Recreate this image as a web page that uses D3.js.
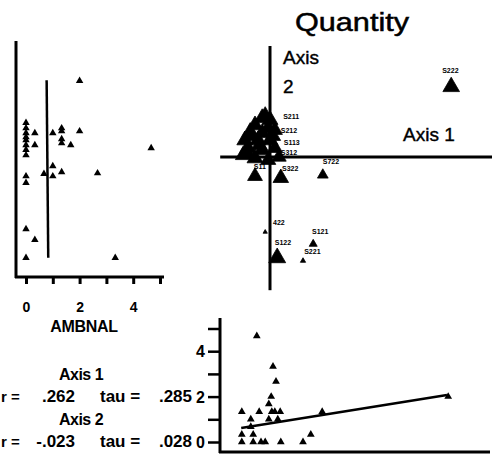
<!DOCTYPE html>
<html><head><meta charset="utf-8">
<script src="https://cdn.jsdelivr.net/npm/d3@7"></script>
<style>
html,body{margin:0;padding:0;background:#fff;}
svg{display:block;}
text{font-family:"Liberation Sans",Arial,sans-serif;fill:#000;}
</style></head>
<body>
<svg id="chart" width="493" height="457"></svg>
<script>
// ---------- DATA ----------
// Ordination (Axis 1 score, Axis 2 score, relative size)
const ordAxis1 = [3.02, 0.88, 0.12, 0.72, 0.55, -0.08,
  -0.13, 0.00, -0.25, -0.03, -0.33, -0.13, 0.08, -0.42, -0.20, 0.00, -0.37, -0.13, 0.08, -0.45, -0.25, -0.03, 0.15, -0.25, 0.18,
  -0.08, -0.30, 0.05, -0.18, -0.38];
const ordAxis2 = [1.17, -0.30, -1.68, -1.45, -1.73, -1.25,
  0.65, 0.62, 0.53, 0.48, 0.42, 0.40, 0.45, 0.28, 0.28, 0.28, 0.15, 0.12, 0.15, 0.03, -0.02, -0.05, 0.00, -0.32, -0.35,
  0.70, 0.35, 0.35, 0.20, 0.08];
const ordSize = [120, 50, 125, 28, 12, 8,
  110, 110, 110, 110, 110, 110, 100, 110, 110, 110, 110, 110, 100, 100, 110, 100, 90, 95, 105,
  90, 100, 100, 100, 90];
// Sample labels
const labelText = ["S222", "S722", "S122", "S121", "S221", "422", "S211", "S212", "S113", "S312", "S322", "S11"];
const labelAxis1 = [2.87, 0.88, 0.08, 0.70, 0.57, 0.05, 0.22, 0.18, 0.23, 0.18, 0.20, -0.27];
const labelAxis2 = [1.40, -0.12, -1.47, -1.28, -1.62, -1.13, 0.63, 0.40, 0.20, 0.03, -0.23, -0.20];

// Left panel: AMBNAL (x) vs Axis 2 (y)
const leftAmbnal = [2.0, 0, 0, 0, 0, 0, 0, 0, 0, 0.33, 0.33, 1.0, 1.33, 1.33, 1.33, 1.33, 2.0, 1.67, 4.67,
  1.0, 0.67, 1.0, 1.33, 0, 0, 2.67, 0, 0.33, 0, 3.33];
const leftAxis2 = [1.27, 0.57, 0.48, 0.40, 0.33, 0.28, 0.20, 0.12, 0.03, 0.40, 0.20, 0.40, 0.48, 0.43, 0.30, 0.23, 0.43, 0.20, 0.15,
  -0.15, -0.28, -0.32, -0.25, -0.32, -0.43, -0.27, -1.20, -1.38, -1.68, -1.68];
const leftLine = [[0.77, 1.28], [0.83, -1.68]];
const leftTicks = [0, 1, 2, 3, 4, 5];

// Bottom panel: Axis 1 (x) vs AMBNAL (y)
const botAxis1 = [-0.17, 0.10, 0.15, 0.07, 0.03, -0.42, -0.13, 0.08, 0.13, 0.22, -0.27, 0.03, 0.18, 0.92, 3.02,
  -0.27, -0.42, -0.23, 0.73, -0.42, -0.23, -0.10, -0.03, 0.23, 0.60];
const botAmbnal = [4.67, 3.33, 2.67, 2.0, 1.67, 1.33, 1.33, 1.33, 1.33, 1.33, 1.0, 1.0, 1.0, 1.33, 2.0,
  0.67, 0.33, 0.33, 0.33, 0, 0, 0, 0, 0, 0];
const botLine = [[-0.43, 0.62], [3.0, 2.07]];
const botTicks = [0, 1, 2, 3, 4, 5];

const statRows = [
  {head: "Axis 1", r: ".262", tau: ".285"},
  {head: "Axis 2", r: "-.023", tau: ".028"}
];

// ---------- SCALES ----------
const svg = d3.select("#chart");
const xO = d3.scaleLinear().domain([0, 1]).range([270, 330]);
const yO = d3.scaleLinear().domain([0, 1]).range([157, 97]);
const xL = d3.scaleLinear().domain([0, 5]).range([26, 160]);
const yL = yO;
const xB = d3.scaleLinear().domain([0, 1]).range([267, 327]);
const yB = d3.scaleLinear().domain([0, 5]).range([442, 328.5]);

const tri = s => d3.symbol().type(d3.symbolTriangle).size(s)();

// ---------- ORDINATION ----------
const gO = svg.append("g");
gO.append("line").attr("x1", xO(0)).attr("x2", xO(0)).attr("y1", yO(1.85)).attr("y2", yO(-2.22))
  .attr("stroke", "#000").attr("stroke-width", 3);
gO.append("line").attr("x1", xO(-0.83)).attr("x2", xO(3.7)).attr("y1", yO(0)).attr("y2", yO(0))
  .attr("stroke", "#000").attr("stroke-width", 3);
gO.selectAll("path.pt").data(ordAxis1.map((d, i) => ({x: d, y: ordAxis2[i], s: ordSize[i]})))
  .join("path").attr("class", "pt")
  .attr("transform", d => `translate(${xO(d.x)},${yO(d.y)})`)
  .attr("d", d => tri(d.s)).attr("fill", "#000")
  .attr("stroke", "#000").attr("stroke-width", 0.8).attr("stroke-linejoin", "round");
gO.selectAll("text.lab").data(labelText.map((t, i) => ({t, x: labelAxis1[i], y: labelAxis2[i]})))
  .join("text").attr("class", "lab")
  .attr("x", d => xO(d.x)).attr("y", d => yO(d.y))
  .attr("font-size", 7).attr("font-weight", "bold").text(d => d.t);

svg.append("text").attr("x", 352).attr("y", 31).attr("text-anchor", "middle")
  .attr("font-size", 25).attr("textLength", 114).attr("lengthAdjust", "spacingAndGlyphs")
  .attr("stroke", "#000").attr("stroke-width", 0.5).text("Quantity");
svg.append("text").attr("x", 283).attr("y", 64).attr("font-size", 19)
  .attr("stroke", "#000").attr("stroke-width", 0.4).text("Axis");
svg.append("text").attr("x", 283).attr("y", 93).attr("font-size", 19)
  .attr("stroke", "#000").attr("stroke-width", 0.4).text("2");
svg.append("text").attr("x", 403).attr("y", 141).attr("font-size", 19)
  .attr("stroke", "#000").attr("stroke-width", 0.4).text("Axis 1");

// ---------- LEFT PANEL ----------
const gL = svg.append("g");
gL.append("line").attr("x1", 16).attr("x2", 16).attr("y1", 41).attr("y2", 278)
  .attr("stroke", "#000").attr("stroke-width", 3);
gL.append("line").attr("x1", 15).attr("x2", 164).attr("y1", 277).attr("y2", 277)
  .attr("stroke", "#000").attr("stroke-width", 3);
const axL = gL.append("g").attr("transform", "translate(0,277)")
  .call(d3.axisBottom(xL).tickValues(leftTicks).tickSize(7).tickSizeOuter(0)
    .tickFormat(d => d % 2 === 0 ? d : ""));
axL.select(".domain").remove();
axL.selectAll(".tick line").attr("stroke", "#000").attr("stroke-width", 3);
axL.selectAll(".tick text").attr("y", 35).attr("dy", 0).attr("font-size", 14)
  .attr("font-weight", "bold").attr("font-family", "Liberation Sans, Arial, sans-serif").attr("fill", "#000");
gL.append("line").attr("x1", xL(leftLine[0][0])).attr("y1", yL(leftLine[0][1]))
  .attr("x2", xL(leftLine[1][0])).attr("y2", yL(leftLine[1][1]))
  .attr("stroke", "#000").attr("stroke-width", 2.5);
gL.selectAll("path.pt").data(leftAmbnal.map((d, i) => ({x: d, y: leftAxis2[i]})))
  .join("path").attr("class", "pt")
  .attr("transform", d => `translate(${xL(d.x)},${yL(d.y)})`)
  .attr("d", tri(24)).attr("fill", "#000");
svg.append("text").attr("x", 84).attr("y", 332).attr("text-anchor", "middle")
  .attr("font-size", 16).attr("font-weight", "bold").attr("letter-spacing", -0.3).text("AMBNAL");

// ---------- STATS TEXT ----------
statRows.forEach((r, i) => {
  const y0 = 380 + i * 45;
  svg.append("text").attr("x", 81).attr("y", y0).attr("text-anchor", "middle")
    .attr("font-size", 16).attr("font-weight", "bold").attr("letter-spacing", -0.5).text(r.head);
  svg.append("text").attr("x", 1).attr("y", y0 + 22)
    .attr("font-size", 15).attr("font-weight", "bold").text("r =");
  svg.append("text").attr("x", 75).attr("y", y0 + 22).attr("text-anchor", "end")
    .attr("font-size", 17).attr("font-weight", "bold").text(r.r);
  svg.append("text").attr("x", 100).attr("y", y0 + 22)
    .attr("font-size", 17).attr("font-weight", "bold").text("tau =");
  svg.append("text").attr("x", 192).attr("y", y0 + 22).attr("text-anchor", "end")
    .attr("font-size", 17).attr("font-weight", "bold").text(r.tau);
});

// ---------- BOTTOM PANEL ----------
const gB = svg.append("g");
gB.append("line").attr("x1", 220).attr("x2", 220).attr("y1", 318).attr("y2", 453)
  .attr("stroke", "#000").attr("stroke-width", 3);
gB.append("line").attr("x1", 219).attr("x2", 490).attr("y1", 452).attr("y2", 452)
  .attr("stroke", "#000").attr("stroke-width", 3);
const axB = gB.append("g").attr("transform", "translate(220,0)")
  .call(d3.axisLeft(yB).tickValues(botTicks).tickSize(12).tickSizeOuter(0)
    .tickFormat(d => d % 2 === 0 ? d : ""));
axB.select(".domain").remove();
axB.selectAll(".tick line").attr("stroke", "#000").attr("stroke-width", 2.5);
axB.selectAll(".tick text").attr("x", -15).attr("dy", "0.36em").attr("font-size", 16)
  .attr("font-weight", "bold").attr("font-family", "Liberation Sans, Arial, sans-serif").attr("fill", "#000");
gB.append("line").attr("x1", xB(botLine[0][0])).attr("y1", yB(botLine[0][1]))
  .attr("x2", xB(botLine[1][0])).attr("y2", yB(botLine[1][1]))
  .attr("stroke", "#000").attr("stroke-width", 2.5);
gB.selectAll("path.pt").data(botAxis1.map((d, i) => ({x: d, y: botAmbnal[i]})))
  .join("path").attr("class", "pt")
  .attr("transform", d => `translate(${xB(d.x)},${yB(d.y)})`)
  .attr("d", tri(26)).attr("fill", "#000");
</script>
</body></html>
